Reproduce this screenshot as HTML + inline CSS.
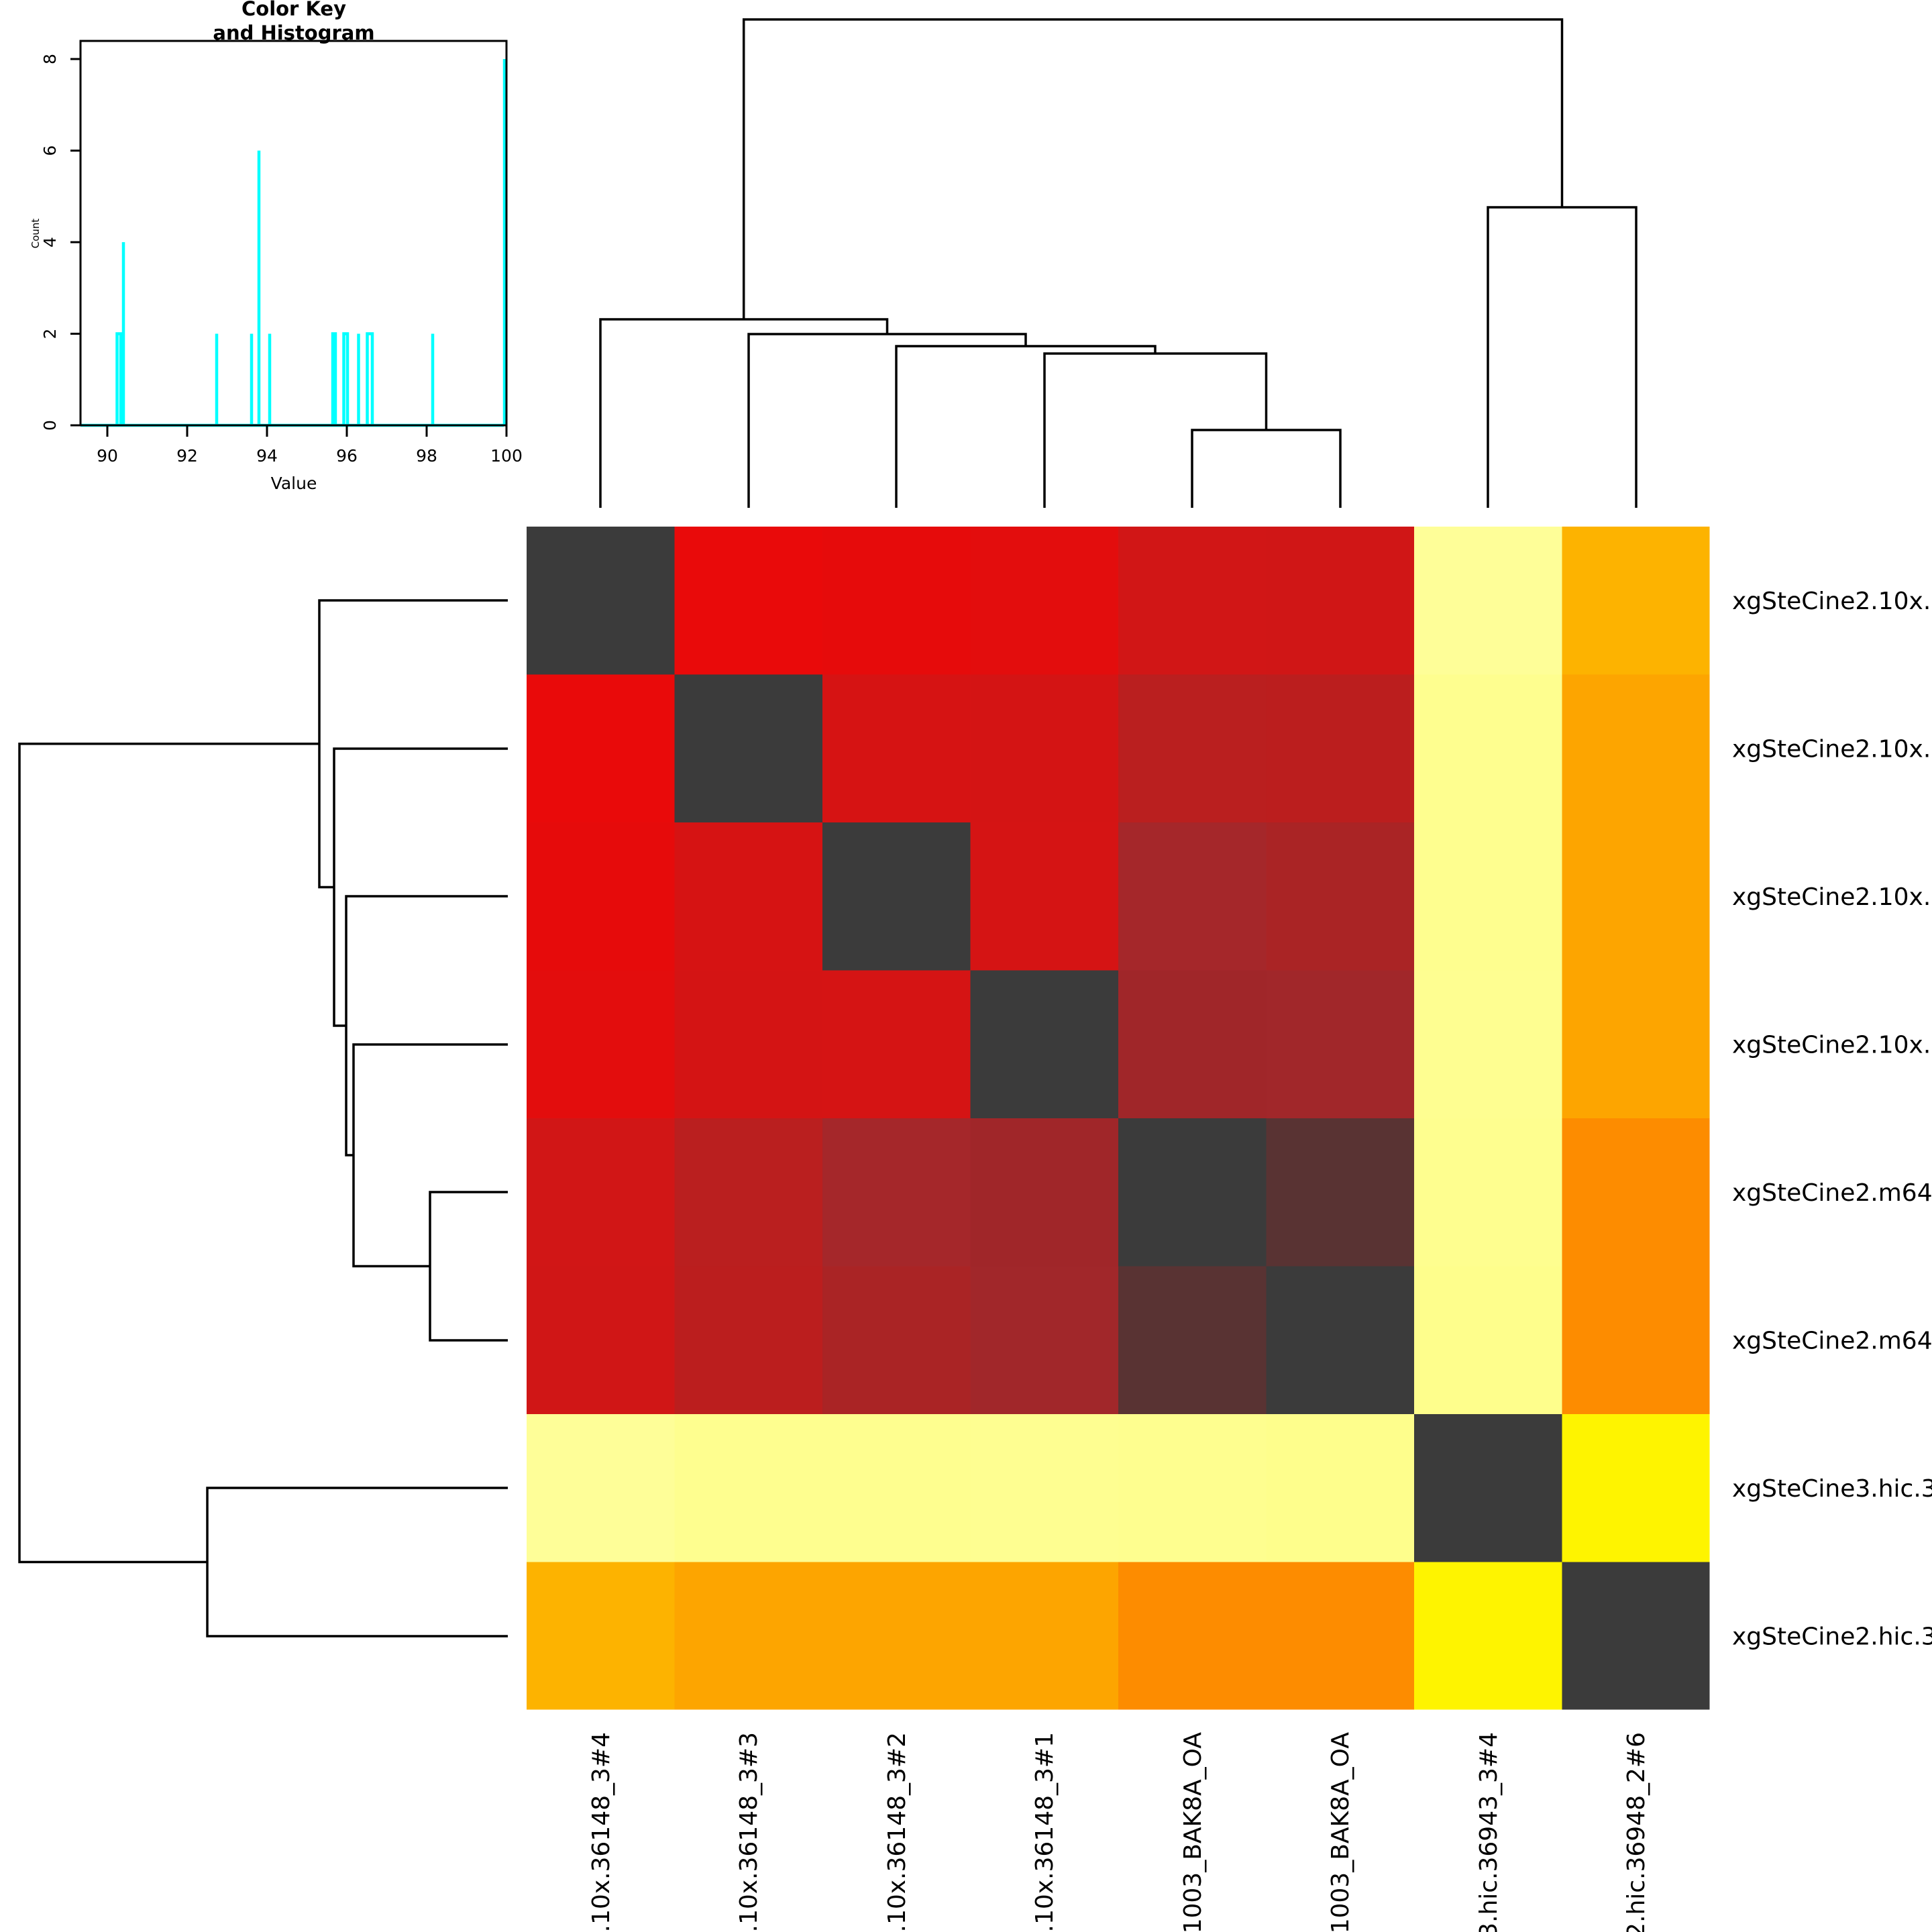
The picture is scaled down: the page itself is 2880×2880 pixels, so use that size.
<!DOCTYPE html>
<html><head><meta charset="utf-8"><style>html,body{margin:0;padding:0;background:#fff;overflow:hidden;width:2880px;height:2880px}svg{display:block}</style></head>
<body>
<svg xmlns="http://www.w3.org/2000/svg" width="2880" height="2880" viewBox="0 0 2880 2880" font-family="'DejaVu Sans','Liberation Sans',sans-serif">
<defs><clipPath id="pg"><rect width="2880" height="2880"/></clipPath></defs>
<rect width="2880" height="2880" fill="#fff"/>
<g clip-path="url(#pg)">
<g shape-rendering="crispEdges">
<rect x="785" y="785" width="221" height="221" fill="#3B3B3B"/>
<rect x="1005.5" y="785" width="221" height="221" fill="#E90A0A"/>
<rect x="1226" y="785" width="221" height="221" fill="#E60B0B"/>
<rect x="1446.5" y="785" width="221" height="221" fill="#E30D0D"/>
<rect x="1667" y="785" width="221" height="221" fill="#D11616"/>
<rect x="1887.5" y="785" width="221" height="221" fill="#D01616"/>
<rect x="2108" y="785" width="221" height="221" fill="#FEFE98"/>
<rect x="2328.5" y="785" width="220" height="221" fill="#FDB300"/>
<rect x="785" y="1005.5" width="221" height="221" fill="#E90A0A"/>
<rect x="1005.5" y="1005.5" width="221" height="221" fill="#3B3B3B"/>
<rect x="1226" y="1005.5" width="221" height="221" fill="#D61313"/>
<rect x="1446.5" y="1005.5" width="221" height="221" fill="#D41414"/>
<rect x="1667" y="1005.5" width="221" height="221" fill="#BA1F1F"/>
<rect x="1887.5" y="1005.5" width="221" height="221" fill="#BB1E1E"/>
<rect x="2108" y="1005.5" width="221" height="221" fill="#FEFE8F"/>
<rect x="2328.5" y="1005.5" width="220" height="221" fill="#FDA500"/>
<rect x="785" y="1226" width="221" height="221" fill="#E60B0B"/>
<rect x="1005.5" y="1226" width="221" height="221" fill="#D61313"/>
<rect x="1226" y="1226" width="221" height="221" fill="#3B3B3B"/>
<rect x="1446.5" y="1226" width="221" height="221" fill="#D51414"/>
<rect x="1667" y="1226" width="221" height="221" fill="#A5272A"/>
<rect x="1887.5" y="1226" width="221" height="221" fill="#AA2425"/>
<rect x="2108" y="1226" width="221" height="221" fill="#FEFE8F"/>
<rect x="2328.5" y="1226" width="220" height="221" fill="#FDA500"/>
<rect x="785" y="1446.5" width="221" height="221" fill="#E30D0D"/>
<rect x="1005.5" y="1446.5" width="221" height="221" fill="#D41414"/>
<rect x="1226" y="1446.5" width="221" height="221" fill="#D51414"/>
<rect x="1446.5" y="1446.5" width="221" height="221" fill="#3B3B3B"/>
<rect x="1667" y="1446.5" width="221" height="221" fill="#A02629"/>
<rect x="1887.5" y="1446.5" width="221" height="221" fill="#A1272A"/>
<rect x="2108" y="1446.5" width="221" height="221" fill="#FEFE91"/>
<rect x="2328.5" y="1446.5" width="220" height="221" fill="#FDA500"/>
<rect x="785" y="1667" width="221" height="221" fill="#D11616"/>
<rect x="1005.5" y="1667" width="221" height="221" fill="#BA1F1F"/>
<rect x="1226" y="1667" width="221" height="221" fill="#A5272A"/>
<rect x="1446.5" y="1667" width="221" height="221" fill="#A02629"/>
<rect x="1667" y="1667" width="221" height="221" fill="#3B3B3B"/>
<rect x="1887.5" y="1667" width="221" height="221" fill="#593333"/>
<rect x="2108" y="1667" width="221" height="221" fill="#FEFE8F"/>
<rect x="2328.5" y="1667" width="220" height="221" fill="#FD8C00"/>
<rect x="785" y="1887.5" width="221" height="221" fill="#D01616"/>
<rect x="1005.5" y="1887.5" width="221" height="221" fill="#BB1E1E"/>
<rect x="1226" y="1887.5" width="221" height="221" fill="#AA2425"/>
<rect x="1446.5" y="1887.5" width="221" height="221" fill="#A1272A"/>
<rect x="1667" y="1887.5" width="221" height="221" fill="#593333"/>
<rect x="1887.5" y="1887.5" width="221" height="221" fill="#3B3B3B"/>
<rect x="2108" y="1887.5" width="221" height="221" fill="#FEFE8C"/>
<rect x="2328.5" y="1887.5" width="220" height="221" fill="#FD8C00"/>
<rect x="785" y="2108" width="221" height="221" fill="#FEFE98"/>
<rect x="1005.5" y="2108" width="221" height="221" fill="#FEFE8F"/>
<rect x="1226" y="2108" width="221" height="221" fill="#FEFE8F"/>
<rect x="1446.5" y="2108" width="221" height="221" fill="#FEFE91"/>
<rect x="1667" y="2108" width="221" height="221" fill="#FEFE8F"/>
<rect x="1887.5" y="2108" width="221" height="221" fill="#FEFE8C"/>
<rect x="2108" y="2108" width="221" height="221" fill="#3B3B3B"/>
<rect x="2328.5" y="2108" width="220" height="221" fill="#FEF400"/>
<rect x="785" y="2328.5" width="221" height="220" fill="#FDB300"/>
<rect x="1005.5" y="2328.5" width="221" height="220" fill="#FDA500"/>
<rect x="1226" y="2328.5" width="221" height="220" fill="#FDA500"/>
<rect x="1446.5" y="2328.5" width="221" height="220" fill="#FDA500"/>
<rect x="1667" y="2328.5" width="221" height="220" fill="#FD8C00"/>
<rect x="1887.5" y="2328.5" width="221" height="220" fill="#FD8C00"/>
<rect x="2108" y="2328.5" width="221" height="220" fill="#FEF400"/>
<rect x="2328.5" y="2328.5" width="220" height="220" fill="#3B3B3B"/>
</g>

<g fill="none" stroke="#000" stroke-width="3.5">
<path d="M1777 757 V641 H1998 V757"/>
<path d="M1557 757 V527 H1887.5 V641"/>
<path d="M1336 757 V516 H1722 V527"/>
<path d="M1116 757 V498 H1529 V516"/>
<path d="M895 757 V476 H1322.5 V498"/>
<path d="M2218 757 V309 H2439 V757"/>
<path d="M1108.7 476 V29 H2328.5 V309"/>
</g>
<g fill="none" stroke="#000" stroke-width="3.5">
<path d="M757 1777 H641 V1998 H757"/>
<path d="M757 1557 H527 V1887.5 H641"/>
<path d="M757 1336 H516 V1722 H527"/>
<path d="M757 1116 H498 V1529 H516"/>
<path d="M757 895 H476 V1322.5 H498"/>
<path d="M757 2218 H309 V2439 H757"/>
<path d="M476 1108.7 H29 V2328.5 H309"/>
</g>

<g font-size="36" fill="#000">
<text x="2582" y="908">xgSteCine2.10x.36148_3#4</text>
<text x="2582" y="1128.5">xgSteCine2.10x.36148_3#3</text>
<text x="2582" y="1349">xgSteCine2.10x.36148_3#2</text>
<text x="2582" y="1569.5">xgSteCine2.10x.36148_3#1</text>
<text x="2582" y="1790">xgSteCine2.m64016_201003_BAK8A_OA</text>
<text x="2582" y="2010.5">xgSteCine2.m64017_201003_BAK8A_OA</text>
<text x="2582" y="2231">xgSteCine3.hic.36943_3#4</text>
<text x="2582" y="2451.5">xgSteCine2.hic.36948_2#6</text>
</g>
<g font-size="36" fill="#000" text-anchor="end">
<text transform="translate(908,2582) rotate(-90)">xgSteCine2.10x.36148_3#4</text>
<text transform="translate(1128,2582) rotate(-90)">xgSteCine2.10x.36148_3#3</text>
<text transform="translate(1349,2582) rotate(-90)">xgSteCine2.10x.36148_3#2</text>
<text transform="translate(1569,2582) rotate(-90)">xgSteCine2.10x.36148_3#1</text>
<text transform="translate(1790,2582) rotate(-90)">xgSteCine2.m64016_201003_BAK8A_OA</text>
<text transform="translate(2010,2582) rotate(-90)">xgSteCine2.m64017_201003_BAK8A_OA</text>
<text transform="translate(2231,2582) rotate(-90)">xgSteCine3.hic.36943_3#4</text>
<text transform="translate(2451,2582) rotate(-90)">xgSteCine2.hic.36948_2#6</text>
</g>

<g fill="none" stroke="#00FFFF" stroke-width="4.5">
<path d="M120 634 H751"/>
<path d="M174.5 634 V497.5 H180 V634"/>
<path d="M184 634 V361"/>
<path d="M323 634 V497.5"/>
<path d="M375 634 V497.5"/>
<path d="M386 634 V224.5"/>
<path d="M402 634 V497.5"/>
<path d="M496 634 V497.5 H500 V634"/>
<path d="M512.5 634 V497.5 H518 V634"/>
<path d="M534.5 634 V497.5"/>
<path d="M547.5 634 V497.5 H555 V634"/>
<path d="M645 634 V497.5"/>
<path d="M752 634 V88"/>
</g>
<g fill="none" stroke="#000" stroke-width="3">
<rect x="120" y="61" width="635" height="573"/>
<path d="M120 634 H105 M120 497.5 H105 M120 361 H105 M120 224.5 H105 M120 88 H105"/>
<path d="M160 634 V651 M279 634 V651 M398 634 V651 M517 634 V651 M636 634 V651 M755 634 V651"/>
</g>
<g font-size="25" fill="#000" text-anchor="middle">
<text x="160" y="688">90</text>
<text x="279" y="688">92</text>
<text x="398" y="688">94</text>
<text x="517" y="688">96</text>
<text x="636" y="688">98</text>
<text x="755" y="688">100</text>
<text x="438" y="729">Value</text>
<text transform="translate(83,634) rotate(-90)">0</text>
<text transform="translate(83,497.5) rotate(-90)">2</text>
<text transform="translate(83,361) rotate(-90)">4</text>
<text transform="translate(83,224.5) rotate(-90)">6</text>
<text transform="translate(83,88) rotate(-90)">8</text>
<text transform="translate(58,348) rotate(-90)" font-size="15">Count</text>
</g>
<g font-size="29" font-weight="bold" fill="#000" text-anchor="middle">
<text x="438" y="23">Color Key</text>
<text x="438" y="59">and Histogram</text>
</g>
</g>
</svg>
</body></html>
